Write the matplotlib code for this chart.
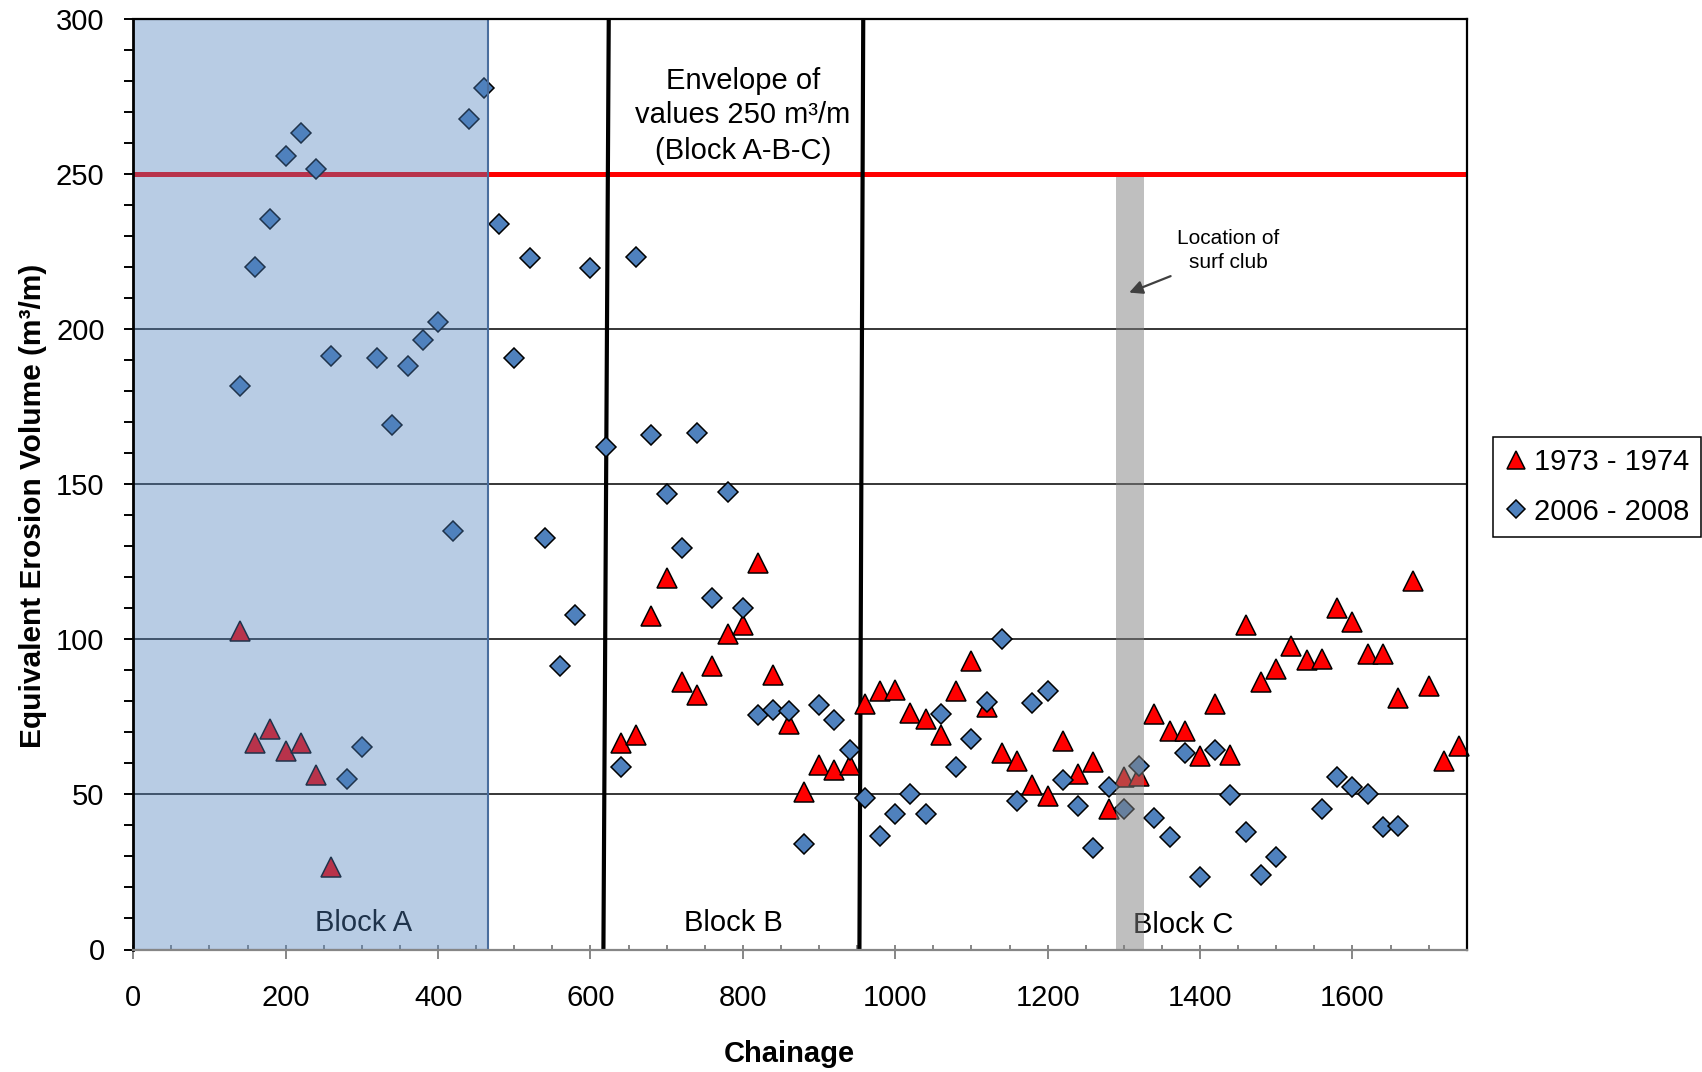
import matplotlib
matplotlib.use("Agg")
import matplotlib.pyplot as plt
from matplotlib.patches import Rectangle
from matplotlib.ticker import MultipleLocator

plt.rcParams['font.family'] = ['Liberation Sans', 'DejaVu Sans']

# Erosion volumes per chainage, 1973-1974 survey
chain_1973 = [140, 160, 180, 200, 220, 240, 260,
              640, 660, 680, 700, 720, 740, 760, 780, 800, 820, 840, 860, 880, 900,
              920, 940, 960, 980, 1000, 1020, 1040, 1060, 1080, 1100, 1120, 1140,
              1160, 1180, 1200, 1220, 1240, 1260, 1280, 1300, 1320, 1340, 1360,
              1380, 1400, 1420, 1440, 1460, 1480, 1500, 1520, 1540, 1560, 1580,
              1600, 1620, 1640, 1660, 1680, 1700, 1720, 1740]
vol_1973 = [102.6, 66.6, 71.0, 63.9, 66.6, 56.4, 26.7,
            66.5, 69.0, 107.4, 119.9, 86.1, 82.2, 91.3, 101.8, 104.5, 124.6, 88.6, 72.8, 50.9, 59.6,
            58.0, 59.5, 79.1, 83.3, 83.7, 76.4, 74.3, 69.0, 83.2, 92.9, 78.3, 63.3,
            60.7, 53.1, 49.6, 67.1, 56.6, 60.6, 45.2, 55.7, 56.0, 75.8, 70.4,
            70.5, 62.3, 79.3, 62.8, 104.7, 86.1, 90.4, 97.7, 93.2, 93.8, 110.0,
            105.5, 95.2, 95.4, 81.2, 118.7, 84.9, 60.8, 65.5]

# Erosion volumes per chainage, 2006-2008 survey
chain_2006 = [140, 160, 180, 200, 220, 240, 260, 280, 300, 320, 340, 360, 380, 400,
              420, 440, 460, 480, 500, 520, 540, 560, 580, 600, 620, 640, 660, 680,
              700, 720, 740, 760, 780, 800, 820, 840, 860, 880, 900, 920, 940, 960,
              980, 1000, 1020, 1040, 1060, 1080, 1100, 1120, 1140, 1160, 1180, 1200,
              1220, 1240, 1260, 1280, 1300, 1320, 1340, 1360, 1380, 1400, 1420, 1440,
              1460, 1480, 1500, 1560, 1580, 1600, 1620, 1640, 1660]
vol_2006 = [181.8, 219.9, 235.6, 255.8, 263.2, 251.5, 191.4, 55.0, 65.4, 190.7, 169.1, 188.2, 196.6, 202.4,
            134.9, 267.9, 277.8, 233.9, 190.8, 222.8, 132.8, 91.3, 107.8, 219.7, 162.1, 58.9, 223.2, 165.9,
            147.0, 129.3, 166.6, 113.3, 147.6, 110.2, 75.7, 77.3, 76.8, 34.0, 78.9, 73.9, 64.3, 48.7,
            36.6, 43.6, 50.0, 43.6, 75.8, 58.7, 67.8, 79.7, 100.0, 48.0, 79.6, 83.2,
            54.8, 46.3, 32.8, 52.3, 45.2, 59.2, 42.5, 36.4, 63.5, 23.3, 64.2, 49.8,
            38.0, 24.0, 29.9, 45.2, 55.7, 52.5, 50.0, 39.6, 39.8]

series_labels = ['1973 - 1974', '2006 - 2008']
envelope_level = 250
block_a_extent = (0, 465)
surf_club_extent = (1290, 1326)
boundary_ab = ((624, 300), (617, 0))
boundary_bc = ((958, 300), (953, 0))

W, H = 1702, 1072
fig = plt.figure(figsize=(W / 100, H / 100), dpi=100)
ax = fig.add_axes([133.3 / W, 1 - 949.5 / H, 1333.4 / W, 930.5 / H])

ax.set_xlim(0, 1750)
ax.set_ylim(0, 300)

# grid
for yv in (50, 100, 150, 200):
    ax.axhline(yv, color='#262626', lw=1.3, zorder=1)

# envelope line
ax.axhline(envelope_level, color='#FF0000', lw=3.6, zorder=2)

# block boundaries
for (x0, y0), (x1, y1) in (boundary_ab, boundary_bc):
    ax.plot([x0, x1], [y0, y1], color='black', lw=3.0, zorder=3, solid_capstyle='butt')

# data
h1, = ax.plot(chain_1973, vol_1973, linestyle='none', marker='^', ms=14.5,
              mfc='#FF0000', mec='black', mew=1.1, zorder=4, clip_on=False)
h2, = ax.plot(chain_2006, vol_2006, linestyle='none', marker='D', ms=10.0,
              mfc='#4F81BD', mec='black', mew=1.1, zorder=4.1, clip_on=False)

# block labels
ax.text(302, 6.0, 'Block A', ha='center', va='baseline', fontsize=21, color='black', zorder=4.5)
ax.text(787, 6.0, 'Block B', ha='center', va='baseline', fontsize=21, color='black', zorder=4.5)
ax.text(1378, 5.2, 'Block C', ha='center', va='baseline', fontsize=21, color='black', zorder=4.5)

# shaded Block A region
ax.add_patch(Rectangle((block_a_extent[0], 0), block_a_extent[1] - block_a_extent[0], 300,
                       facecolor=(79 / 255, 129 / 255, 189 / 255, 0.4),
                       edgecolor='#4A6E9E', lw=1.5, zorder=5))

# surf club band
ax.add_patch(Rectangle((surf_club_extent[0], 0), surf_club_extent[1] - surf_club_extent[0], 249,
                       facecolor=(0.5, 0.5, 0.5, 0.5), edgecolor='none', zorder=5))

# envelope annotation
ax.text(800, 277.3, 'Envelope of', ha='center', va='baseline', fontsize=21, zorder=6)
ax.text(800, 266.4, 'values 250 m³/m', ha='center', va='baseline', fontsize=21, zorder=6)
ax.text(800, 254.8, '(Block A-B-C)', ha='center', va='baseline', fontsize=21, zorder=6)

# surf club annotation
ax.text(1437.5, 227.4, 'Location of', ha='center', va='baseline', fontsize=15, zorder=6)
ax.text(1437.5, 219.6, 'surf club', ha='center', va='baseline', fontsize=15, zorder=6)
ax.annotate('', xy=(1307, 211.8), xytext=(1361.4, 217.1),
            arrowprops=dict(arrowstyle='-|>', color='#404040', lw=1.6, mutation_scale=20,
                            shrinkA=0, shrinkB=0), zorder=6)

# axes styling
for side in ('top', 'right', 'left'):
    ax.spines[side].set_color('black')
    ax.spines[side].set_linewidth(1.6)
ax.spines['left'].set_linewidth(2.0)
ax.spines['bottom'].set_color('#868686')
ax.spines['bottom'].set_linewidth(1.6)
for s in ax.spines.values():
    s.set_zorder(7)

ax.xaxis.set_major_locator(MultipleLocator(200))
ax.xaxis.set_minor_locator(MultipleLocator(50))
ax.yaxis.set_major_locator(MultipleLocator(50))
ax.yaxis.set_minor_locator(MultipleLocator(10))
ax.xaxis.remove_overlapping_locs = False

ax.tick_params(axis='y', which='both', direction='out', length=6.7, width=1.4,
               color='black', left=True, right=False)
ax.tick_params(axis='y', which='major', labelsize=21, pad=14)
ax.tick_params(axis='x', which='major', direction='out', length=6.7, width=1.4,
               color='#868686', labelsize=21, pad=18)
ax.tick_params(axis='x', which='minor', direction='in', length=3.6, width=1.4,
               color='#868686')

fig.text(33 / W, 1 - 506 / H, 'Equivalent Erosion Volume (m³/m)', rotation=90,
         ha='center', va='center', fontsize=21.5, fontweight='bold')
fig.text(789.3 / W, 1 - 1061.7 / H, 'Chainage', ha='center', va='baseline',
         fontsize=21, fontweight='bold')

leg = fig.legend([h1, h2], series_labels, loc='upper left',
                 bbox_to_anchor=(1493.3 / W, 1 - 437 / H), borderaxespad=0,
                 fontsize=21, markerscale=0.87, handlelength=0.8, handletextpad=0.22,
                 borderpad=0.38, labelspacing=0.74, frameon=True, fancybox=False,
                 edgecolor='black', framealpha=1)
leg.get_frame().set_linewidth(1.1)

fig.savefig('out.png', dpi=100)
